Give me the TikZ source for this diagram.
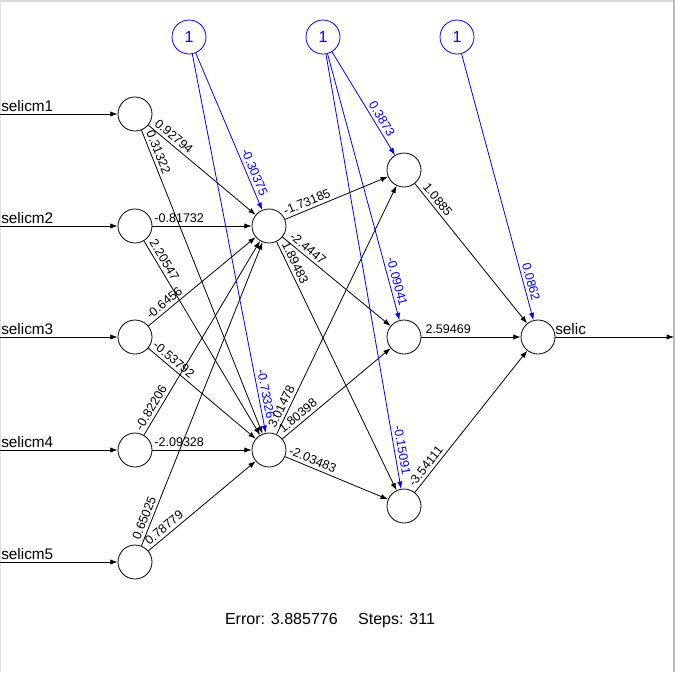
\documentclass[tikz,border=0pt]{standalone}
\usepackage{fontspec}
\setmainfont{Liberation Sans}
\usetikzlibrary{arrows.meta}

\begin{document}
\begin{tikzpicture}[x=0.75pt,y=-0.75pt]
                        \tikzstyle{neuron}=[draw,circle,minimum size=25.5pt,inner sep=0pt,line width=0.6pt]
                        \tikzstyle{bias}=[neuron,blue,font=\fontsize{12}{14}\selectfont]
                        \tikzstyle{weight}=[-{Latex[length=5.5pt,width=4pt]},line width=0.6pt]
                        \tikzstyle{bweight}=[weight,blue]
                        \tikzstyle{wlabel}=[sloped,above=1.2pt,inner sep=1pt,font=\fontsize{9.4}{11}\selectfont]
                        \tikzstyle{varlabel}=[anchor=base west,inner sep=0pt,font=\fontsize{11.5}{13}\selectfont]
                        \useasboundingbox (0,0) rectangle (675,672);
                        \fill[gray!30] (0,0) rectangle (675,2);
                        \fill[gray!55] (673,0) rectangle (675,672);
                        \draw[gray!25] (0.5,0) -- (0.5,672);
                        \node[neuron] (i1) at (135,114) {};
                        \node[neuron] (i2) at (135,226) {};
                        \node[neuron] (i3) at (135,337) {};
                        \node[neuron] (i4) at (135,450) {};
                        \node[neuron] (i5) at (135,562) {};
                        \node[neuron] (h1) at (269,226) {};
                        \node[neuron] (h2) at (269,450) {};
                        \node[neuron] (o1) at (404,170) {};
                        \node[neuron] (o2) at (404,337) {};
                        \node[neuron] (o3) at (404,506) {};
                        \node[neuron] (out) at (538,337) {};
                        \node[bias] (b1) at (189,37) {1};
                        \node[bias] (b2) at (323,37) {1};
                        \node[bias] (b3) at (457,37) {1};
                        \coordinate (s1) at (0,114);
                        \coordinate (s2) at (0,226);
                        \coordinate (s3) at (0,337);
                        \coordinate (s4) at (0,450);
                        \coordinate (s5) at (0,562);
                        \coordinate (t) at (674,337);
                        \draw[weight] (s1) -- (i1);
                        \draw[weight] (s2) -- (i2);
                        \draw[weight] (s3) -- (i3);
                        \draw[weight] (s4) -- (i4);
                        \draw[weight] (s5) -- (i5);
                        \draw[weight] (out) -- (t);
                        \node[varlabel] (l1) at (1,111.5) {selicm1};
                        \node[varlabel] (l2) at (1,223.5) {selicm2};
                        \node[varlabel] (l3) at (1,334.5) {selicm3};
                        \node[varlabel] (l4) at (1,447.5) {selicm4};
                        \node[varlabel] (l5) at (1,559.5) {selicm5};
                        \node[varlabel] (lout) at (555,334) {selic};
                        \draw[weight] (i1) -- (h1) node[wlabel,pos=0.192] {0.92794};
                        \draw[weight] (i1) -- (h2) node[wlabel,pos=0.082] {0.31322};
                        \draw[weight] (i2) -- (h1) node[wlabel,pos=0.27] {-0.81732};
                        \draw[weight] (i2) -- (h2) node[wlabel,pos=0.119] {2.20547};
                        \draw[weight] (i3) -- (h1) node[wlabel,pos=0.193] {-0.6456};
                        \draw[weight] (i3) -- (h2) node[wlabel,pos=0.191] {-0.53792};
                        \draw[weight] (i4) -- (h1) node[wlabel,pos=0.119] {-0.82206};
                        \draw[weight] (i4) -- (h2) node[wlabel,pos=0.27] {-2.09328};
                        \draw[weight] (i5) -- (h1) node[wlabel,pos=0.082] {0.65025};
                        \draw[weight] (i5) -- (h2) node[wlabel,pos=0.192] {0.78779};
                        \draw[weight] (h1) -- (o1) node[wlabel,pos=0.241] {-1.73185};
                        \draw[weight] (h1) -- (o2) node[wlabel,pos=0.192] {-2.4447};
                        \draw[weight] (h1) -- (o3) node[wlabel,pos=0.098] {1.89483};
                        \draw[weight] (h2) -- (o1) node[wlabel,pos=0.098] {3.01478};
                        \draw[weight] (h2) -- (o2) node[wlabel,pos=0.19] {1.80398};
                        \draw[weight] (h2) -- (o3) node[wlabel,pos=0.241] {-2.03483};
                        \draw[weight] (o1) -- (out) node[wlabel,pos=0.15] {1.0885};
                        \draw[weight] (o2) -- (out) node[wlabel,pos=0.27] {2.59469};
                        \draw[weight] (o3) -- (out) node[wlabel,pos=0.149] {-3.54111};
                        \draw[bweight] (b1) -- (h1) node[wlabel,pos=0.778] {-0.30375};
                        \draw[bweight] (b1) -- (h2) node[wlabel,pos=0.902] {-0.73326};
                        \draw[bweight] (b2) -- (o1) node[wlabel,pos=0.688] {0.3873};
                        \draw[bweight] (b2) -- (o2) node[wlabel,pos=0.863] {-0.09041};
                        \draw[bweight] (b2) -- (o3) node[wlabel,pos=0.914] {-0.15091};
                        \draw[bweight] (b3) -- (out) node[wlabel,pos=0.863] {0.0862};
                        \node[font=\fontsize{12}{14}\selectfont] (err) at (330,621) {Error: 3.885776\hspace{1em} Steps: 311};
                    \end{tikzpicture}
\end{document}
